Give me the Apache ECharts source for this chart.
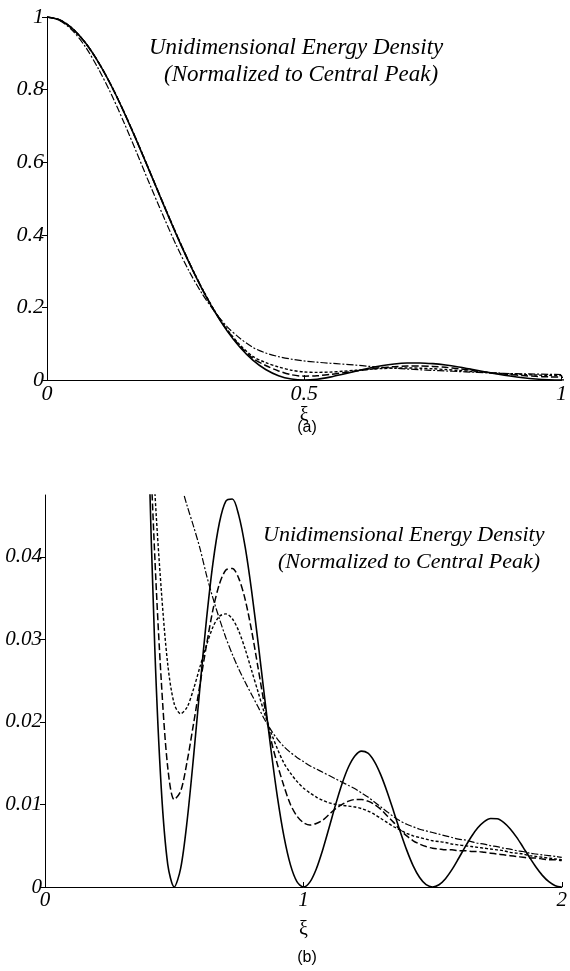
<!DOCTYPE html>
<html>
<head>
<meta charset="utf-8">
<script src="https://cdn.jsdelivr.net/npm/echarts@6/dist/echarts.min.js"></script>
<style>
  html, body { margin: 0; padding: 0; background: #fff; }
  #chart { width: 570px; height: 971px; }
</style>
</head>
<body>
<div id="chart"></div>
<script>
// 横坐标 ξ
var xi = [0, 0.025, 0.05, 0.075, 0.1, 0.125, 0.15, 0.175, 0.2, 0.225,
    0.25, 0.275, 0.3, 0.325, 0.35, 0.375, 0.4, 0.425, 0.45, 0.475,
    0.5, 0.525, 0.55, 0.575, 0.6, 0.625, 0.65, 0.675, 0.7, 0.725,
    0.75, 0.775, 0.8, 0.825, 0.85, 0.875, 0.9, 0.925, 0.95, 0.975,
    1, 1.025, 1.05, 1.075, 1.1, 1.125, 1.15, 1.175, 1.2, 1.225,
    1.25, 1.275, 1.3, 1.325, 1.35, 1.375, 1.4, 1.425, 1.45, 1.475,
    1.5, 1.525, 1.55, 1.575, 1.6, 1.625, 1.65, 1.675, 1.7, 1.725,
    1.75, 1.775, 1.8, 1.825, 1.85, 1.875, 1.9, 1.925, 1.95, 1.975, 2];

// 实线
var solid = [1, 0.9918, 0.9675, 0.9281, 0.8751, 0.8106, 0.7368, 0.6566, 0.5728, 0.4881,
    0.4053, 0.3267, 0.2546, 0.1904, 0.1353, 0.0901, 0.0547, 0.0289, 0.01195, 0.00275,
    0, 0.00225, 0.0080, 0.01579, 0.02431, 0.03242, 0.03924, 0.04414, 0.04676, 0.04701,
    0.04503, 0.04114, 0.0358, 0.02955, 0.02295, 0.01654, 0.0108, 0.0061, 0.00268, 0.00065,
    0, 0.00059, 0.00219, 0.00452, 0.00723, 0.01001, 0.01254, 0.01457, 0.01591, 0.01647,
    0.01621, 0.0152, 0.01356, 0.01146, 0.0091, 0.0067, 0.00447, 0.00257, 0.00115, 0.00028,
    0, 0.00027, 0.00101, 0.0021, 0.00342, 0.0048, 0.00609, 0.00717, 0.00793, 0.0083,
    0.00827, 0.00784, 0.00707, 0.00604, 0.00484, 0.0036, 0.00242, 0.00141, 0.00064, 0.00016, 0];

// 长虚线
var dashed = [1, 0.9918, 0.9675, 0.9281, 0.8752, 0.8108, 0.7371, 0.657, 0.5733, 0.4887,
    0.406, 0.3275, 0.2555, 0.1915, 0.1375, 0.0935, 0.06, 0.04, 0.025, 0.0145,
    0.0106, 0.0116, 0.0152, 0.0198, 0.0246, 0.0293, 0.0336, 0.0367, 0.0384, 0.0386,
    0.0374, 0.0348, 0.031, 0.0265, 0.0219, 0.0178, 0.0148, 0.0122, 0.01, 0.0086,
    0.0078, 0.0075, 0.0077, 0.0081, 0.0088, 0.0095, 0.01, 0.0104, 0.0106, 0.0106,
    0.0104, 0.01, 0.0094, 0.0086, 0.0078, 0.0069, 0.0062, 0.0056, 0.0052, 0.0049,
    0.0047, 0.0046, 0.0045, 0.0045, 0.0044, 0.0044, 0.0043, 0.0043, 0.0042, 0.0041,
    0.004, 0.0039, 0.0038, 0.0037, 0.0036, 0.0035, 0.0035, 0.0034, 0.0033, 0.0033, 0.0032];

// 短虚线
var dotted = [1, 0.9918, 0.9676, 0.9282, 0.8753, 0.811, 0.7374, 0.6574, 0.5738, 0.4893,
    0.4067, 0.3283, 0.2565, 0.1928, 0.1395, 0.0965, 0.065, 0.048, 0.036, 0.027,
    0.0222, 0.021, 0.0218, 0.024, 0.0267, 0.0293, 0.0315, 0.0328, 0.0331, 0.0325,
    0.031, 0.0288, 0.0262, 0.0236, 0.021, 0.0187, 0.0167, 0.015, 0.0138, 0.0128,
    0.012, 0.0114, 0.0109, 0.0105, 0.0102, 0.01, 0.0099, 0.0098, 0.0097, 0.0095,
    0.0092, 0.0088, 0.0083, 0.0078, 0.0073, 0.0069, 0.0065, 0.0062, 0.006, 0.0058,
    0.0056, 0.0055, 0.0054, 0.0052, 0.0051, 0.005, 0.0049, 0.0048, 0.0047, 0.0046,
    0.0045, 0.0044, 0.0042, 0.0041, 0.004, 0.0038, 0.0037, 0.0036, 0.0035, 0.0034, 0.0033];

// 点划线
var dashDot = [1, 0.99, 0.962, 0.917, 0.857, 0.787, 0.708, 0.624, 0.538, 0.455,
    0.375, 0.303, 0.241, 0.19, 0.147, 0.115, 0.09, 0.0745, 0.0645, 0.0575,
    0.0525, 0.049, 0.0462, 0.0437, 0.041, 0.0378, 0.035, 0.0325, 0.0302, 0.0282,
    0.0264, 0.0248, 0.0233, 0.0218, 0.0203, 0.019, 0.0179, 0.017, 0.0163, 0.0157,
    0.0152, 0.0147, 0.0143, 0.0139, 0.0135, 0.0131, 0.0127, 0.0123, 0.0119, 0.0114,
    0.0109, 0.0103, 0.0097, 0.0091, 0.0085, 0.008, 0.0076, 0.0073, 0.007, 0.0068,
    0.0066, 0.0064, 0.0062, 0.006, 0.0058, 0.0057, 0.0055, 0.0053, 0.0052, 0.005,
    0.0049, 0.0047, 0.0046, 0.0044, 0.0043, 0.0041, 0.004, 0.0039, 0.0038, 0.0037, 0.0036];

// 刻度
var ticksA = [0, 0.2, 0.4, 0.6, 0.8, 1];
var ticksB = [0, 0.01, 0.02, 0.03, 0.04];

var serif = 'Liberation Serif';

function pairs(ys) {
    var out = [];
    for (var i = 0; i < xi.length; i++) {
        out.push([xi[i], ys[i]]);
    }
    return out;
}

var styles = [
    {data: solid, width: 1.6, type: 'solid'},
    {data: dashed, width: 1.5, type: [7, 3]},
    {data: dotted, width: 1.4, type: [3, 2]},
    {data: dashDot, width: 1.2, type: [7, 2, 2, 2]}
];

var series = [];
for (var g = 0; g < 2; g++) {
    for (var s = 0; s < styles.length; s++) {
        series.push({
            type: 'line',
            xAxisIndex: g,
            yAxisIndex: g,
            data: pairs(styles[s].data),
            symbol: 'none',
            smooth: 0.3,
            silent: true,
            animation: false,
            lineStyle: {color: '#000', width: styles[s].width, type: styles[s].type}
        });
    }
}

function labelStyle(size) {
    return {color: '#000', fontFamily: serif, fontStyle: 'italic', fontSize: size};
}

function xAxisOf(g, max, interval, nameGap, size) {
    return {
        type: 'value', gridIndex: g, min: 0, max: max, interval: interval,
        name: 'ξ', nameLocation: 'middle', nameGap: nameGap,
        nameTextStyle: {color: '#000', fontFamily: serif, fontSize: 20},
        axisLine: {onZero: false, lineStyle: {color: '#000', width: 1}},
        axisTick: {inside: true, length: 5, lineStyle: {color: '#000'}},
        axisLabel: Object.assign({margin: 3}, labelStyle(size)),
        splitLine: {show: false}
    };
}

function yAxisOf(g, max, ticks, size) {
    return {
        type: 'value', gridIndex: g, min: 0, max: max,
        axisLine: {onZero: false, lineStyle: {color: '#000', width: 1}},
        axisTick: {length: 5, customValues: ticks, lineStyle: {color: '#000'}},
        axisLabel: Object.assign({margin: 3, customValues: ticks}, labelStyle(size)),
        splitLine: {show: false}
    };
}

var chart = echarts.init(document.getElementById('chart'));
var option = {
    backgroundColor: '#fff',
    animation: false,
    grid: [
        {left: 47, top: 17, width: 520, height: 363},
        {left: 45, top: 495, width: 520, height: 392}
    ],
    xAxis: [xAxisOf(0, 1, 0.5, 22, 22), xAxisOf(1, 2, 1, 33, 21)],
    yAxis: [yAxisOf(0, 1, ticksA, 22), yAxisOf(1, 0.0475, ticksB, 21)],
    series: series,
    graphic: [
        {type: 'text', left: 149, top: 36, style: {text: 'Unidimensional Energy Density', fill: '#000', font: 'italic 23px "Liberation Serif"'}},
        {type: 'text', left: 164, top: 63, style: {text: '(Normalized to Central Peak)', fill: '#000', font: 'italic 23px "Liberation Serif"'}},
        {type: 'text', left: 263, top: 524, style: {text: 'Unidimensional Energy Density', fill: '#000', font: 'italic 22px "Liberation Serif"'}},
        {type: 'text', left: 278, top: 551, style: {text: '(Normalized to Central Peak)', fill: '#000', font: 'italic 22px "Liberation Serif"'}},
        {type: 'text', x: 307, y: 428, style: {text: '(a)', fill: '#000', font: '16px "Liberation Sans"', align: 'center', verticalAlign: 'middle'}},
        {type: 'text', x: 307, y: 958, style: {text: '(b)', fill: '#000', font: '16px "Liberation Sans"', align: 'center', verticalAlign: 'middle'}}
    ]
};
chart.setOption(option);
</script>
</body>
</html>
